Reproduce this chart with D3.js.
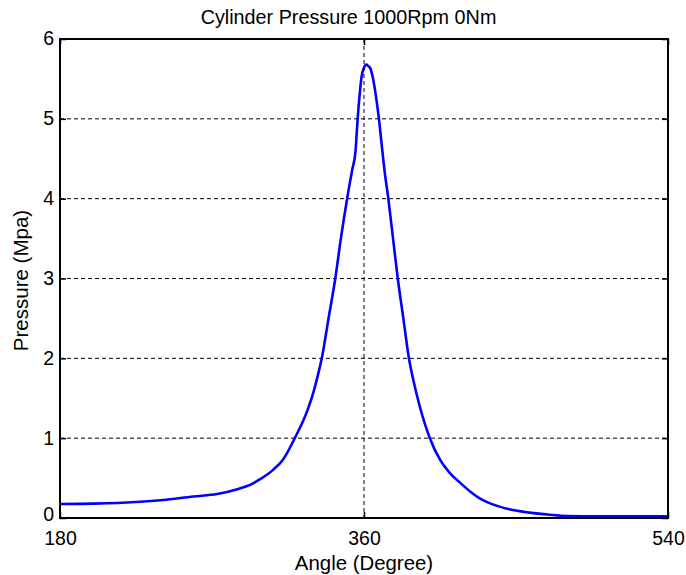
<!DOCTYPE html>
<html><head><meta charset="utf-8">
<script src="https://cdn.jsdelivr.net/npm/d3@7"></script>
<style>body{margin:0;background:#fff;}svg{display:block;font-family:"Liberation Sans",Arial,sans-serif;}</style>
</head><body>
<script>
const angle = [180,200,225,241,259,273,285,294,298,306,312,319,326,330,332,335,339,343,346.3,350,353,355,355.8,356.6,357.5,358.5,360,361.5,362.5,363.6,365.1,367.1,368.9,370.5,372.1,374.4,377.2,380,383.3,386.6,389.5,393,399,405,411,417,423,429,435,446,458,470,480,500,540];
const pressure = [0.175,0.18,0.20,0.225,0.27,0.30,0.36,0.43,0.48,0.60,0.73,1.0,1.32,1.57,1.73,2.0,2.5,3.0,3.5,4.0,4.36,4.6,4.86,5.1,5.32,5.52,5.64,5.68,5.66,5.64,5.53,5.28,4.99,4.67,4.36,4.0,3.5,3.0,2.5,2.0,1.7,1.4,1.0,0.73,0.56,0.44,0.33,0.24,0.18,0.11,0.067,0.04,0.025,0.02,0.02];
const xTicks = [180,360,540];
const yTicks = [0,1,2,3,4,5,6];
const title = "Cylinder Pressure 1000Rpm 0Nm";
const xLabel = "Angle (Degree)";
const yLabel = "Pressure (Mpa)";

const W=686,H=575, L=60,R=668,T=39,B=518;
const svg=d3.select("body").append("svg").attr("width",W).attr("height",H);
const x=d3.scaleLinear().domain([180,540]).range([L,R]);
const y=d3.scaleLinear().domain([0,6]).range([B,T]);

// grid
svg.append("g").selectAll("line").data(yTicks.filter(v=>v>0&&v<6)).join("line")
  .attr("x1",L).attr("x2",R).attr("y1",d=>y(d)).attr("y2",d=>y(d))
  .attr("stroke","#000").attr("stroke-width",1).attr("stroke-dasharray","4,3");
svg.append("g").selectAll("line").data(xTicks.filter(v=>v>180&&v<540)).join("line")
  .attr("y1",T).attr("y2",B).attr("x1",d=>x(d)).attr("x2",d=>x(d))
  .attr("stroke","#000").attr("stroke-width",1).attr("stroke-dasharray","4,3");

// curve
const line=d3.line().x((d,i)=>x(angle[i])).y(d=>y(d)).curve(d3.curveMonotoneX);
svg.append("path").datum(pressure).attr("d",line).attr("fill","none")
  .attr("stroke","#0000ff").attr("stroke-width",2.6).attr("stroke-linejoin","round");

// axes (inward ticks)
const fs="19.5px";
const gB=svg.append("g").attr("transform",`translate(0,${B})`)
  .call(d3.axisBottom(x).tickValues(xTicks).tickSize(-6).tickPadding(13).tickFormat(d3.format("d")));
const gT=svg.append("g").attr("transform",`translate(0,${T})`)
  .call(d3.axisTop(x).tickValues(xTicks).tickSize(-6).tickFormat(""));
const gL=svg.append("g").attr("transform",`translate(${L},0)`)
  .call(d3.axisLeft(y).tickValues(yTicks).tickSize(-6).tickPadding(6).tickFormat(d3.format("d")));
const gR=svg.append("g").attr("transform",`translate(${R},0)`)
  .call(d3.axisRight(y).tickValues(yTicks).tickSize(-6).tickFormat(""));
[gB,gT,gL,gR].forEach(g=>{
  g.select(".domain").remove();
  g.selectAll("line").attr("stroke","#000").attr("stroke-width",1.5);
  g.selectAll("text").attr("fill","#000").style("font-size",fs).style("font-family","Liberation Sans, Arial, sans-serif");
});
gB.selectAll("text").attr("dy","0.71em");
gL.selectAll("text").attr("dy","0.3em");
gL.selectAll("text").filter(d=>d===0).attr("dy","0.12em");

svg.append("rect").attr("x",L).attr("y",T).attr("width",R-L).attr("height",B-T)
  .attr("fill","none").attr("stroke","#000").attr("stroke-width",2);

svg.append("text").attr("x",348.5).attr("y",24).attr("text-anchor","middle")
  .style("font-size","19.8px").text(title);
svg.append("text").attr("x",364).attr("y",570).attr("text-anchor","middle")
  .style("font-size","20.4px").text(xLabel);
svg.append("text").attr("transform",`translate(28,${(T+B)/2+2}) rotate(-90)`).attr("text-anchor","middle")
  .style("font-size","20.5px").text(yLabel);
</script>
</body></html>
